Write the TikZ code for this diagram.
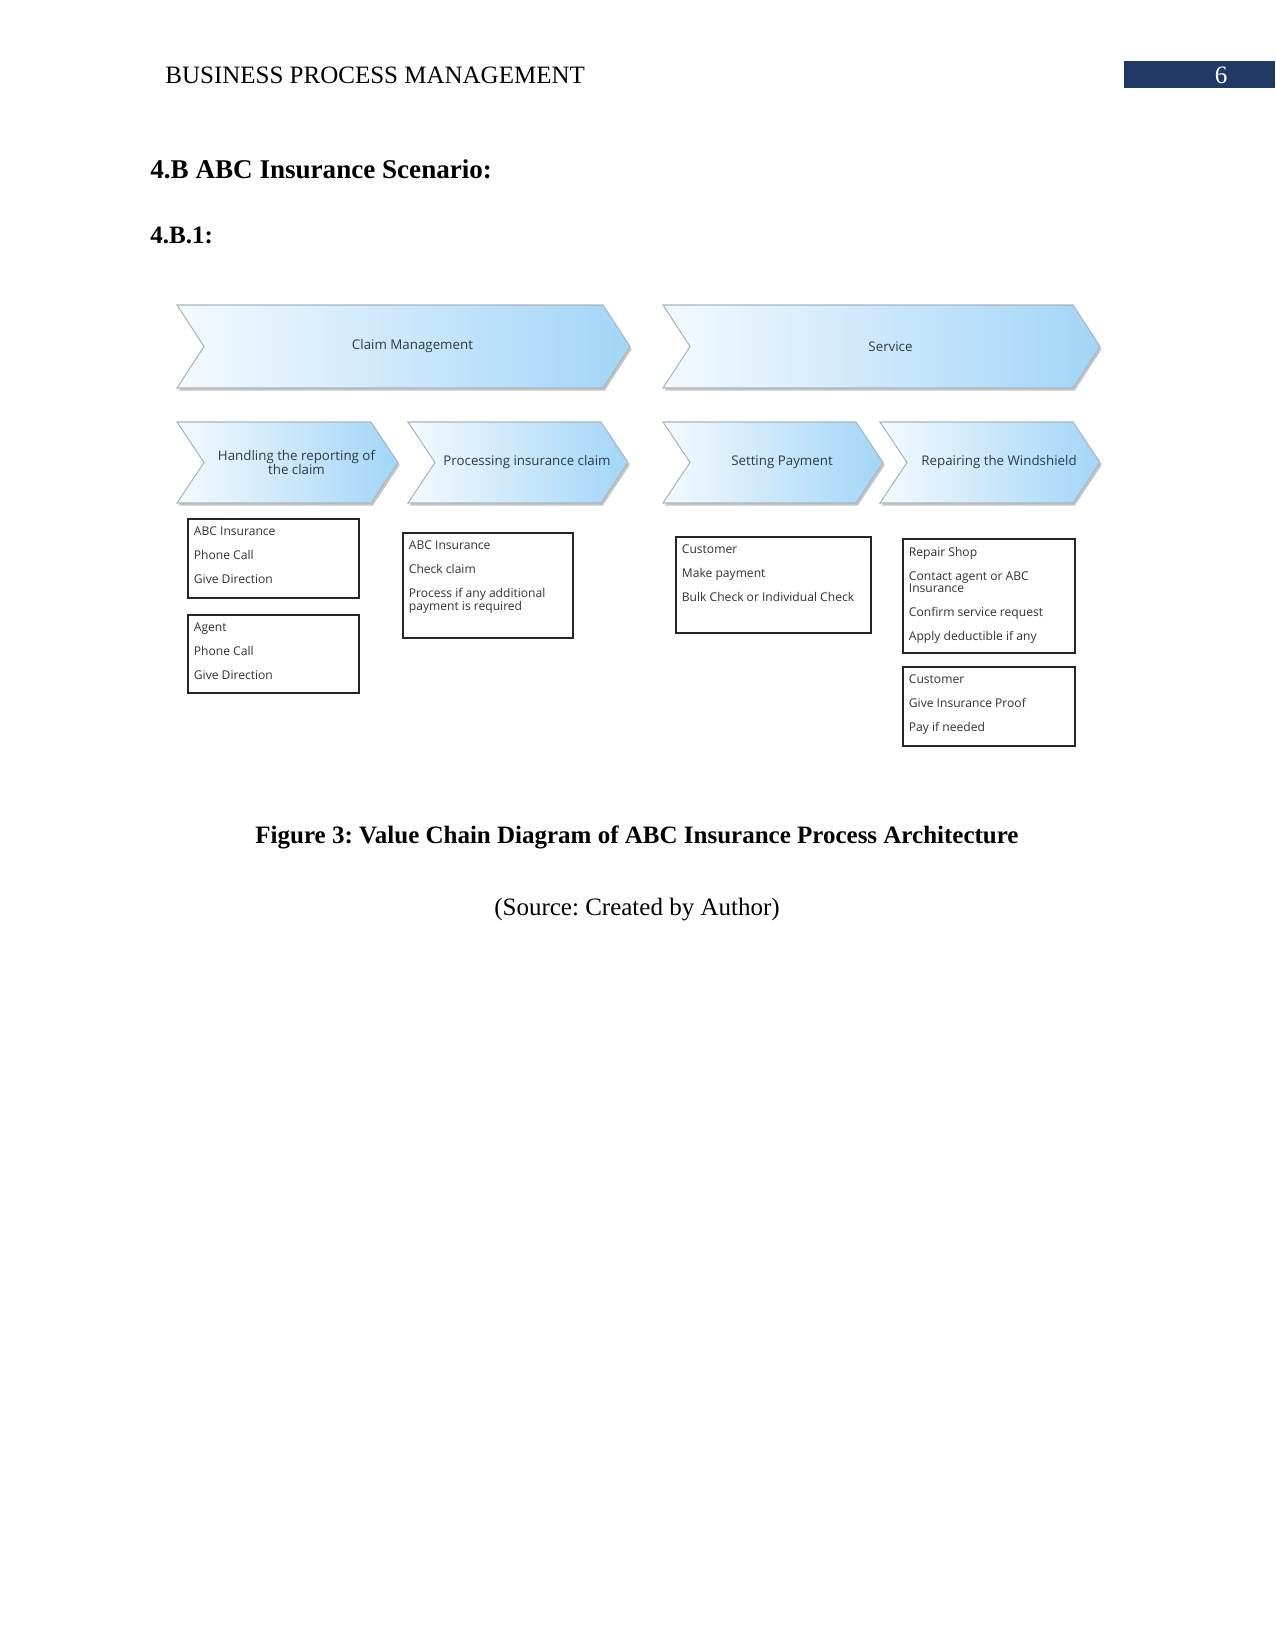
\documentclass[tikz,border=0pt]{standalone}
\usepackage{fontspec}
\setmainfont{Liberation Serif}
\newfontfamily\chartfont{Open Sans}
\usetikzlibrary{positioning,shadows,fit}
\frenchspacing
\definecolor{navyhead}{HTML}{1F3864}
\definecolor{chevblue}{HTML}{A2D5F8}
\definecolor{chevlight}{HTML}{F4FAFE}
\definecolor{chevedge}{HTML}{A8B6BE}
\definecolor{chevtext}{HTML}{2E3B48}
\tikzset{
  chevron/.style={draw=chevedge,line width=0.5pt,left color=chevlight,right color=chevblue,
    drop shadow={shadow xshift=0.8pt,shadow yshift=-1.3pt,opacity=0.45}},
  chevlabel/.style={font=\chartfont\fontsize{6.4}{6.6}\selectfont,text=chevtext,align=center},
  rolebox/.style={draw=black!85,line width=0.5pt,inner sep=0pt},
  roletext/.style={font=\chartfont\fontsize{5.8}{6.2}\selectfont,text=black!80,align=left,
    anchor=north west,inner sep=0pt},
  pagetext/.style={font=\fontsize{12}{14}\selectfont,inner sep=0pt},
}
\begin{document}
\begin{tikzpicture}[x=0.48pt,y=-0.48pt]
  \useasboundingbox (0,0) rectangle (1275,1651);
  \fill[white] (0,0) rectangle (1275,1651);
  % running head
  \node[pagetext,anchor=base west] (head) at (165,84) {BUSINESS PROCESS MANAGEMENT};
  \fill[navyhead] (1124,61) rectangle (1275,88);
  \node[pagetext,anchor=base,text=white] (pageno) at (1221,84) {6};
  \node[pagetext,anchor=base west,font=\fontsize{13}{15}\selectfont\bfseries] (sec) at (150,179) {4.B ABC Insurance Scenario:};
  \node[pagetext,anchor=base west,font=\fontsize{12}{14}\selectfont\bfseries] (subsec) at (150,243) {4.B.1:};
  % value chain
  \foreach \xa/\xb/\ya/\yb/\nm/\txt in {177/630/305/388/cm/Claim Management,
      663/1100/305/388/sv/Service,
      177/398/422/503/hr/{Handling the reporting of\\the claim},
      408/628/422/503/pc/Processing insurance claim,
      663/883/422/503/sp/Setting Payment,
      880/1100/422/503/rw/Repairing the Windshield}
  {
    \draw[chevron] (\xa,\ya) -- (\xb-27,\ya) -- (\xb,{(\ya+\yb)/2}) -- (\xb-27,\yb)
      -- (\xa,\yb) -- (\xa+27,{(\ya+\yb)/2}) -- cycle;
    \node[chevlabel] (\nm) at ({(\xa+\xb)/2+9},{(\ya+\yb)/2}) {\txt};
  }
  % role boxes
  \node[rolebox,fit={(188,519) (359,598)}] (b1) {};
  \node[rolebox,fit={(188,615) (359,693)}] (b2) {};
  \node[rolebox,fit={(403,533) (573,638)}] (b3) {};
  \node[rolebox,fit={(676,537) (871,633)}] (b4) {};
  \node[rolebox,fit={(903,539) (1075,653)}] (b5) {};
  \node[rolebox,fit={(903,667) (1075,746)}] (b6) {};
  \node[roletext] (t1) at ([shift={(6,8)}]b1.north west) {ABC Insurance\\[5.3pt]Phone Call\\[5.3pt]Give Direction};
  \node[roletext] (t2) at ([shift={(6,8)}]b2.north west) {Agent\\[5.3pt]Phone Call\\[5.3pt]Give Direction};
  \node[roletext] (t3) at ([shift={(6,8)}]b3.north west) {ABC Insurance\\[5.3pt]Check claim\\[5.3pt]Process if any additional\\payment is required};
  \node[roletext] (t4) at ([shift={(6,8)}]b4.north west) {Customer\\[5.3pt]Make payment\\[5.3pt]Bulk Check or Individual Check};
  \node[roletext] (t5) at ([shift={(6,8)}]b5.north west) {Repair Shop\\[5.3pt]Contact agent or ABC\\Insurance\\[5.3pt]Confirm service request\\[5.3pt]Apply deductible if any};
  \node[roletext] (t6) at ([shift={(6,8)}]b6.north west) {Customer\\[5.3pt]Give Insurance Proof\\[5.3pt]Pay if needed};
  % caption
  \node[pagetext,anchor=base,font=\fontsize{12}{14}\selectfont\bfseries] (cap) at (637,843) {Figure 3: Value Chain Diagram of ABC Insurance Process Architecture};
  \node[pagetext,anchor=base] (src) at (637,915) {(Source: Created by Author)};
\end{tikzpicture}
\end{document}
